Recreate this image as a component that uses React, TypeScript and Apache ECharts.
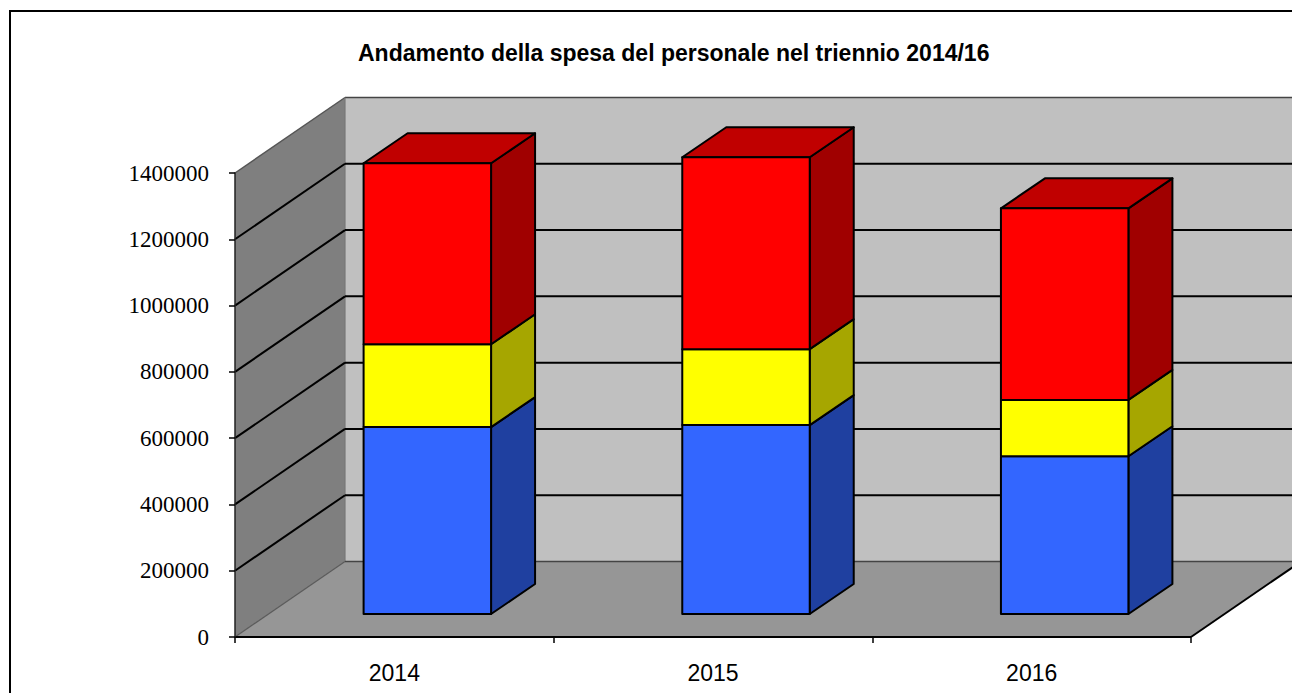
import React, { useEffect, useRef } from "react";
import * as echarts from "echarts";

const years = ["2014", "2015", "2016"];
const blueValues = [564000, 570000, 476000];
const yellowValues = [250000, 229000, 170000];
const redValues = [546000, 579000, 578000];
const gridValues = [200000, 400000, 600000, 800000, 1000000, 1200000];
const axisMax = 1400000;
const axisStep = 200000;
const titleText = "Andamento della spesa del personale nel triennio 2014/16";

const WALL_DX = 110;
const WALL_DY = -75.5;
const BAR_DX = 44;
const BAR_DY = -30;
const BAR_SHIFT_X = 33;
const BAR_SHIFT_Y = -23;
const BAR_RATIO = 0.4;

const edge = { stroke: "#000", lineWidth: 2, lineJoin: "round" as const };

function poly(points: number[][], fill: string, style: any = edge) {
  return { type: "polygon", shape: { points }, style: { fill, ...style }, silent: true };
}
function seg(a: number[], b: number[], stroke: string, lineWidth: number) {
  return {
    type: "line",
    shape: { x1: a[0], y1: a[1], x2: b[0], y2: b[1] },
    style: { stroke, lineWidth },
    silent: true,
  };
}

const renderRoom = (params: any) => {
  const c = params.coordSys;
  const l = c.x, r = c.x + c.width, t = c.y, b = c.y + c.height;
  return {
    type: "group",
    children: [
      poly([[l + WALL_DX, t + WALL_DY], [r + WALL_DX, t + WALL_DY], [r + WALL_DX, b + WALL_DY], [l + WALL_DX, b + WALL_DY]], "#c0c0c0", { stroke: "none" }),
      poly([[l, t], [l + WALL_DX, t + WALL_DY], [l + WALL_DX, b + WALL_DY], [l, b]], "#7f7f7f", { stroke: "none" }),
      poly([[l, b], [r, b], [r + WALL_DX, b + WALL_DY], [l + WALL_DX, b + WALL_DY]], "#969696", { stroke: "none" }),
      seg([l, t], [l + WALL_DX, t + WALL_DY], "#555", 1.5),
      seg([l + WALL_DX, t + WALL_DY], [r + WALL_DX, t + WALL_DY], "#444", 1.5),
      seg([l + WALL_DX, t + WALL_DY], [l + WALL_DX, b + WALL_DY], "#777", 1.2),
      seg([l, b], [l + WALL_DX, b + WALL_DY], "#5a5a5a", 1.2),
      seg([l + WALL_DX, b + WALL_DY], [r + WALL_DX, b + WALL_DY], "#444", 1.5),
      seg([r, b], [r + WALL_DX, b + WALL_DY], "#000", 2),
    ],
  };
};

const renderGridLine = (params: any, api: any) => {
  const c = params.coordSys;
  const y = api.coord([0, api.value(0)])[1];
  return {
    type: "group",
    children: [
      seg([c.x, y], [c.x + WALL_DX, y + WALL_DY], "#000", 2),
      seg([c.x + WALL_DX, y + WALL_DY], [c.x + c.width + WALL_DX, y + WALL_DY], "#000", 2),
    ],
  };
};

function boxRenderer(front: string, side: string, top: string | null) {
  return (_params: any, api: any) => {
    const idx = api.value(0);
    const lo = api.coord([idx, api.value(1)]);
    const hi = api.coord([idx, api.value(2)]);
    const half = (api.size([1, 0])[0] * BAR_RATIO) / 2;
    const x0 = lo[0] + BAR_SHIFT_X - half;
    const x1 = lo[0] + BAR_SHIFT_X + half;
    const yb = lo[1] + BAR_SHIFT_Y;
    const yt = hi[1] + BAR_SHIFT_Y;
    const children: any[] = [];
    children.push(poly([[x1, yb], [x1 + BAR_DX, yb + BAR_DY], [x1 + BAR_DX, yt + BAR_DY], [x1, yt]], side));
    if (top) {
      children.push(poly([[x0, yt], [x1, yt], [x1 + BAR_DX, yt + BAR_DY], [x0 + BAR_DX, yt + BAR_DY]], top));
    }
    children.push(poly([[x0, yb], [x1, yb], [x1, yt], [x0, yt]], front));
    return { type: "group", children };
  };
}

function stacked(base: number[], vals: number[]) {
  return vals.map((v, i) => [i, base[i], base[i] + v]);
}

export default function App() {
  const ref = useRef<HTMLDivElement>(null);
  useEffect(() => {
    document.body.style.margin = "0";
    const chart = echarts.init(ref.current!, null, { renderer: "svg" });
    const base0 = years.map(() => 0);
    const base1 = blueValues;
    const base2 = blueValues.map((v, i) => v + yellowValues[i]);
    chart.setOption({
      animation: false,
      backgroundColor: "#fff",
      title: {
        text: titleText,
        left: 353,
        top: 36,
        textStyle: { fontFamily: "Liberation Sans", fontWeight: "bold", fontSize: 23, color: "#000" },
      },
      graphic: [
        { type: "rect", silent: true, z: -10, shape: { x: 10, y: 11, width: 1400, height: 800 }, style: { fill: "none", stroke: "#000", lineWidth: 2 } },
      ],
      grid: { left: 235, right: 101, top: 173, bottom: 56, containLabel: false },
      xAxis: {
        type: "category",
        data: years,
        axisLine: { show: false },
        axisTick: { show: true, alignWithLabel: false, length: 6, lineStyle: { color: "#000", width: 1.5 } },
        axisLabel: { margin: 24, fontFamily: "Liberation Sans", fontSize: 23, color: "#000" },
        z: 20,
      },
      yAxis: {
        type: "value",
        min: 0,
        max: axisMax,
        interval: axisStep,
        splitLine: { show: false },
        axisLine: { show: true, lineStyle: { color: "#222", width: 1.5 } },
        axisTick: { show: true, length: 6, lineStyle: { color: "#000", width: 1.5 } },
        axisLabel: { margin: 26, fontFamily: "Liberation Serif", fontSize: 23, color: "#000", formatter: (v: number) => String(v) },
        z: 20,
      },
      series: [
        { type: "custom", name: "Pareti", renderItem: renderRoom, data: [[0]], silent: true, z: 1, encode: { x: 0 }, xAxisIndex: 0, yAxisIndex: 0 },
        { type: "custom", name: "Griglia", renderItem: renderGridLine, data: gridValues.map((v) => [v]), silent: true, z: 2, encode: { y: 0 } },
        { type: "custom", name: "Blu", renderItem: boxRenderer("#3366ff", "#1f40a0", null), data: stacked(base0, blueValues), z: 3, encode: { x: 0, y: [1, 2] } },
        { type: "custom", name: "Giallo", renderItem: boxRenderer("#ffff00", "#a6a600", null), data: stacked(base1, yellowValues), z: 4, encode: { x: 0, y: [1, 2] } },
        { type: "custom", name: "Rosso", renderItem: boxRenderer("#ff0000", "#a00000", "#c00000"), data: stacked(base2, redValues), z: 5, encode: { x: 0, y: [1, 2] } },
        {
          type: "line",
          name: "Asse",
          data: [],
          silent: true,
          markLine: {
            silent: true,
            symbol: "none",
            label: { show: false },
            lineStyle: { color: "#000", width: 2, type: "solid" },
            data: [{ yAxis: 0 }],
          },
          z: 6,
        },
      ],
    });
    return () => chart.dispose();
  }, []);
  return <div ref={ref} style={{ position: "fixed", left: 0, top: 0, width: 1292, height: 693 }} />;
}
